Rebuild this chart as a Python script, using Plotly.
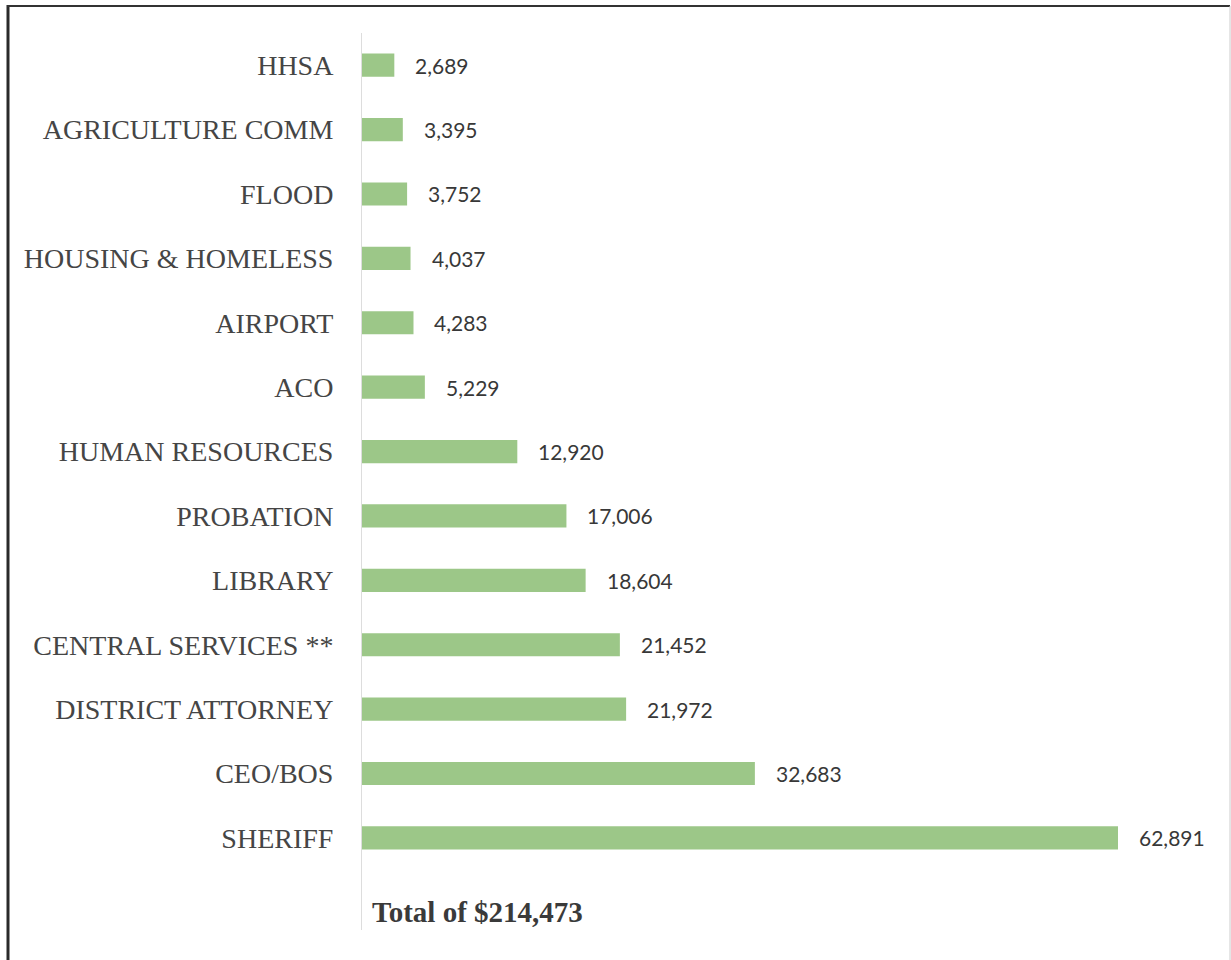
import plotly.graph_objects as go

categories = ["HHSA", "AGRICULTURE COMM", "FLOOD", "HOUSING & HOMELESS", "AIRPORT", "ACO",
              "HUMAN RESOURCES", "PROBATION", "LIBRARY", "CENTRAL SERVICES **",
              "DISTRICT ATTORNEY", "CEO/BOS", "SHERIFF"]
values = [2689, 3395, 3752, 4037, 4283, 5229, 12920, 17006, 18604, 21452, 21972, 32683, 62891]
total_label = "Total of $214,473"

W, H = 1231, 960
L, R, T, B = 362, 31, 33, 30
pw, ph = W - L - R, H - T - B

def px_x(p):
    return (p - L) / pw

def px_y(p):
    return (H - B - p) / ph

fig = go.Figure()
fig.add_trace(go.Bar(
    x=values, y=categories, orientation="h",
    marker=dict(color="#9cc788", line=dict(width=0)),
    width=0.36, hoverinfo="x+y",
))

for c, v in zip(categories, values):
    fig.add_annotation(x=v, y=c, text=f"{v:,}", showarrow=False, xanchor="left",
                       xshift=19, font=dict(family="Lato, Carlito, sans-serif", size=21, color="#383838"))

fig.add_annotation(xref="paper", yref="paper", x=px_x(370), y=px_y(912), text=f"<b>{total_label}</b>",
                   showarrow=False, xanchor="left", yanchor="middle",
                   font=dict(family="Liberation Serif, serif", size=29, color="#3a3a3a"))

shapes = [
    dict(type="line", xref="paper", yref="paper", x0=px_x(8), x1=px_x(8), y0=px_y(5), y1=px_y(960),
         line=dict(color="#2a2a2a", width=3)),
    dict(type="line", xref="paper", yref="paper", x0=px_x(7), x1=px_x(1230), y0=px_y(6), y1=px_y(6),
         line=dict(color="#333333", width=2)),
    dict(type="line", xref="paper", yref="paper", x0=px_x(1230), x1=px_x(1230), y0=px_y(6), y1=px_y(960),
         line=dict(color="#cccccc", width=1)),
]

fig.update_layout(
    width=W, height=H, margin=dict(l=L, r=R, t=T, b=B),
    paper_bgcolor="white", plot_bgcolor="white",
    showlegend=False, shapes=shapes,
    xaxis=dict(range=[0, pw / (756 / 62891)], visible=False, fixedrange=True, automargin=False),
    yaxis=dict(range=[13.43, -0.5], showline=True, linecolor="#dddddd", linewidth=1,
               showgrid=False, ticks="", ticklabelstandoff=22, automargin=False,
               tickfont=dict(family="Liberation Serif, serif", size=28, color="#454545")),
)

fig.write_html("out.html", post_script="document.body.style.margin='0';",
               config={"displayModeBar": False})
